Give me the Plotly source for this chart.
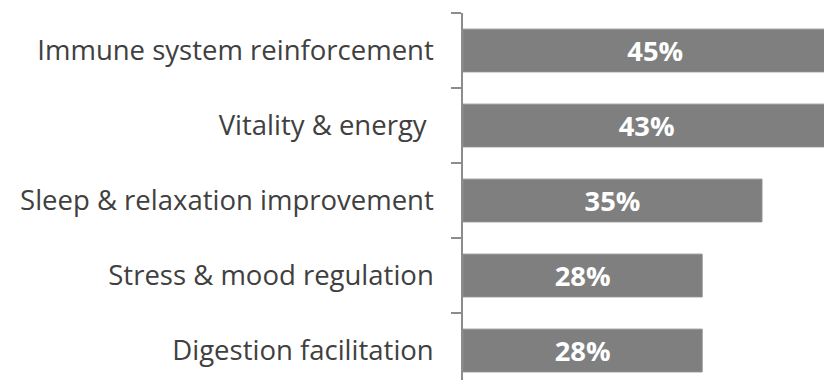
import plotly.graph_objects as go

categories = [
    "Immune system reinforcement",
    "Vitality & energy\u00a0",
    "Sleep & relaxation improvement",
    "Stress & mood regulation",
    "Digestion facilitation",
]
shares = [45, 43, 35, 28, 28]
share_labels = ["45%", "43%", "35%", "28%", "28%"]

fig = go.Figure()

fig.add_trace(go.Bar(
    x=shares, y=categories,
    orientation="h",
    marker=dict(color="#7f7f7f", line=dict(color="#8c8c8c", width=1)),
    text=share_labels,
    textposition="inside",
    insidetextanchor="middle",
    textfont=dict(color="white", size=29, family="Open Sans", weight="bold"),
    hoverinfo="skip",
))

# page body has an 8px margin; keep the figure inside the window so no
# scrollbar appears, and let the bottom slot run off the edge like the original
fig.update_layout(
    width=824, height=372,
    paper_bgcolor="white",
    plot_bgcolor="white",
    showlegend=False,
    bargap=0.43,
    margin=dict(l=455, r=0, t=5, b=0),
    font=dict(family="Open Sans", color="#404040"),
    xaxis=dict(visible=False, range=[0, 43.2], fixedrange=True),
    yaxis=dict(
        autorange=False,
        range=[4.393, -0.5],
        showline=True, linecolor="#8c8c8c", linewidth=1.5,
        ticks="outside", ticklen=10, tickcolor="#8c8c8c", tickwidth=1.5,
        tickson="boundaries",
        ticklabelstandoff=22,
        tickfont=dict(size=27.5, color="#404040", family="Open Sans"),
        showgrid=False,
    ),
)

fig.write_html("out.html")
